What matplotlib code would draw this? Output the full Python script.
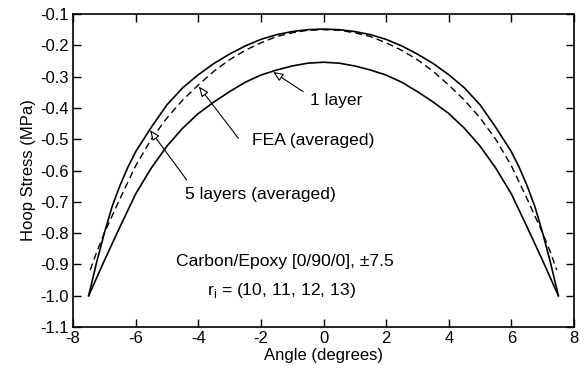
import numpy as np
import matplotlib.pyplot as plt

plt.rcParams['font.family'] = ['Liberation Sans', 'DejaVu Sans']
plt.rcParams['axes.unicode_minus'] = False

# ----------------------------
# Data
# ----------------------------

angle_1 = [-7.5, -7.0, -6.5, -6.0, -5.5, -5.0, -4.5, -4.0, -3.5, -3.0, -2.5, -2.0, -1.5, -1.0, -0.5,
           0.0, 0.5, 1.0, 1.5, 2.0, 2.5, 3.0, 3.5, 4.0, 4.5, 5.0, 5.5, 6.0, 6.5, 7.0, 7.5]
stress_1 = [-1.0, -0.888, -0.780, -0.675, -0.592, -0.522, -0.465, -0.418, -0.381, -0.348, -0.318,
            -0.295, -0.279, -0.266, -0.257, -0.254, -0.257, -0.266, -0.279, -0.295, -0.318, -0.348,
            -0.381, -0.418, -0.465, -0.522, -0.592, -0.675, -0.780, -0.888, -1.0]

angle_5 = [-7.5, -7.25, -7.0, -6.75, -6.5, -6.25, -6.0, -5.5, -5.0, -4.5, -4.0, -3.5, -3.0, -2.5,
           -2.0, -1.5, -1.0, -0.5, 0.0, 0.5, 1.0, 1.5, 2.0, 2.5, 3.0, 3.5, 4.0, 4.5, 5.0, 5.5,
           6.0, 6.25, 6.5, 6.75, 7.0, 7.25, 7.5]
stress_5 = [-1.0, -0.895, -0.800, -0.715, -0.648, -0.590, -0.540, -0.462, -0.390, -0.336, -0.294,
            -0.258, -0.228, -0.202, -0.181, -0.166, -0.156, -0.150, -0.148, -0.150, -0.156, -0.166,
            -0.181, -0.202, -0.228, -0.258, -0.294, -0.336, -0.390, -0.462, -0.540, -0.590,
            -0.648, -0.715, -0.800, -0.895, -1.0]

angle_fea = [-7.45, -7.25, -7.0, -6.5, -6.0, -5.5, -5.0, -4.5, -4.0, -3.5, -3.0, -2.5, -2.0, -1.5,
             -1.0, -0.5, 0.0, 0.5, 1.0, 1.5, 2.0, 2.5, 3.0, 3.5, 4.0, 4.5, 5.0, 5.5, 6.0, 6.5,
             7.0, 7.25, 7.45]
stress_fea = [-0.918, -0.862, -0.800, -0.690, -0.585, -0.500, -0.432, -0.375, -0.327, -0.283,
              -0.246, -0.216, -0.192, -0.172, -0.160, -0.152, -0.150, -0.152, -0.160, -0.172,
              -0.192, -0.216, -0.246, -0.283, -0.327, -0.375, -0.432, -0.500, -0.585, -0.690,
              -0.800, -0.862, -0.918]

x_ticks = [-8, -6, -4, -2, 0, 2, 4, 6, 8]
y_ticks = [-1.1, -1.0, -0.9, -0.8, -0.7, -0.6, -0.5, -0.4, -0.3, -0.2, -0.1]


# ----------------------------
# Plot
# ----------------------------

fig = plt.figure(figsize=(5.85, 3.69), dpi=100)
ax = fig.add_axes([0.1248, 0.1138, 0.8564, 0.8482])

ax.plot(angle_1, stress_1, color='black', lw=1.2)
ax.plot(angle_5, stress_5, color='black', lw=1.2)
ax.plot(angle_fea, stress_fea, color='black', lw=1.0, dashes=(5, 3))

ax.set_xlim(-8, 8)
ax.set_ylim(-1.1, -0.1)
ax.set_xticks(x_ticks)
ax.set_yticks(y_ticks)
ax.set_yticklabels([f"{v:.1f}" for v in y_ticks])
ax.tick_params(direction='in', length=6, width=1, top=True, right=True, labelsize=12, pad=3)
for s in ax.spines.values():
    s.set_linewidth(1.2)

ax.set_xlabel("Angle (degrees)", fontsize=12, labelpad=1)
ax.set_ylabel("Hoop Stress (MPa)", fontsize=12, labelpad=3)

fs = 12.6
arrow = dict(arrowstyle='-|>,head_length=0.6,head_width=0.25', fc='white', ec='black',
             lw=0.8, shrinkA=0, shrinkB=0)

ax.annotate("", xy=(-1.61, -0.285), xytext=(-0.65, -0.348), arrowprops=arrow)
ax.text(-0.43, -0.375, "1 layer", fontsize=fs, va='center', ha='left')

ax.annotate("", xy=(-3.98, -0.332), xytext=(-2.72, -0.497), arrowprops=arrow)
ax.text(-2.29, -0.503, "FEA (averaged)", fontsize=fs, va='center', ha='left')

ax.annotate("", xy=(-5.54, -0.471), xytext=(-4.37, -0.630), arrowprops=arrow)
ax.text(-4.42, -0.678, "5 layers (averaged)", fontsize=fs, va='center', ha='left')

ax.text(-1.22, -0.891, "Carbon/Epoxy [0/90/0], \u00b17.5", fontsize=fs, va='center', ha='center')
ax.text(-1.33, -0.982, r"r$_\mathregular{i}$ = (10, 11, 12, 13)", fontsize=fs,
        va='center', ha='center')

fig.savefig("out.png", dpi=100)
